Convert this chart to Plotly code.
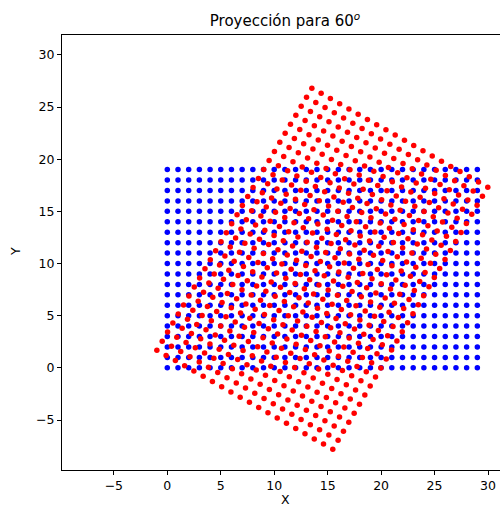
import math
import plotly.graph_objects as go

# Original grid (blue)
grid_x = [0, 1, 2, 3, 4, 5, 6, 7, 8, 9, 10, 11, 12, 13, 14, 15, 16, 17, 18, 19,
          20, 21, 22, 23, 24, 25, 26, 27, 28, 29]
grid_y = [0, 1, 2, 3, 4, 5, 6, 7, 8, 9, 10, 11, 12, 13, 14, 15, 16, 17, 18, 19]
# Projection parameters (red)
angle_deg = 60
pivot_x = 14.5
pivot_y = 9.5

x_ticks = [-5, 0, 5, 10, 15, 20, 25, 30]
y_ticks = [-5, 0, 5, 10, 15, 20, 25, 30]

bx, by = [], []
for gy in grid_y:
    for gx in grid_x:
        bx.append(gx)
        by.append(gy)

a = math.radians(angle_deg)
ca, sa = math.cos(a), math.sin(a)
rx, ry = [], []
for px, py in zip(bx, by):
    dx, dy = px - pivot_x, py - pivot_y
    rx.append(pivot_x + ca * dx - sa * dy)
    ry.append(pivot_y + sa * dx + ca * dy)

fig = go.Figure()
fig.add_trace(go.Scatter(x=bx, y=by, mode="markers",
                         marker=dict(color="#0000ff", size=5.5, line=dict(width=0)),
                         showlegend=False, hoverinfo="skip"))
fig.add_trace(go.Scatter(x=rx, y=ry, mode="markers",
                         marker=dict(color="#ff0000", size=5.5, line=dict(width=0)),
                         showlegend=False, hoverinfo="skip"))

FONT = "DejaVu Sans"
axis_common = dict(
    showgrid=False, zeroline=False, showline=True, linecolor="#000000", linewidth=1,
    ticks="outside", ticklen=4, tickwidth=1, tickcolor="#000000",
    tickfont=dict(family=FONT, size=12.5, color="#000000"),
)

fig.update_layout(
    width=500, height=508,
    margin=dict(l=62, r=0, t=35, b=38),
    paper_bgcolor="white", plot_bgcolor="white",
    font=dict(family=FONT, size=12.5, color="#000000"),
    xaxis=dict(range=[-9.85, 31.12], tickvals=x_ticks, mirror=True, **axis_common),
    yaxis=dict(range=[-9.79, 31.9], tickvals=y_ticks, **axis_common),
    title=dict(text="Proyección para 60<sup><i>o</i></sup>", x=0.57, xref="container",
               xanchor="center", y=1 - 21 / 508, yref="container", yanchor="middle",
               font=dict(family=FONT, size=15, color="#000000")),
    annotations=[
        dict(text="X", xref="paper", yref="paper", x=(285 - 62) / 438, y=-(499 - 470) / 435,
             xanchor="center", yanchor="middle", showarrow=False,
             font=dict(family=FONT, size=12.5, color="#000000")),
        dict(text="Y", xref="paper", yref="paper", x=-(62 - 15) / 438, y=(470 - 252) / 435,
             xanchor="center", yanchor="middle", showarrow=False, textangle=-90,
             font=dict(family=FONT, size=12.5, color="#000000")),
    ],
)

fig.write_html("out.html")
